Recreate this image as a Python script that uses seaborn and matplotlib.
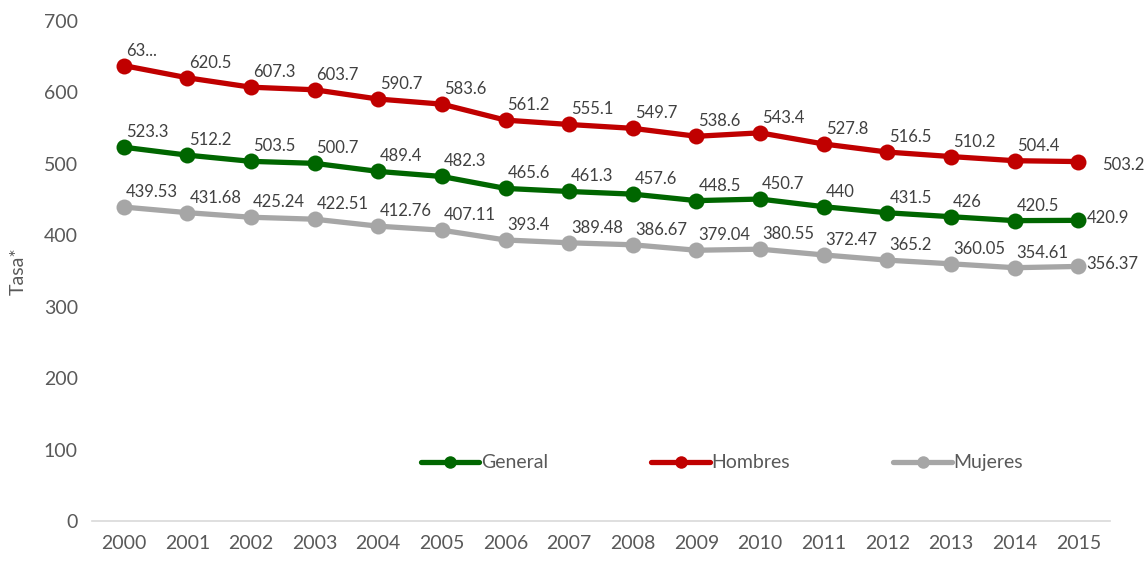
import matplotlib
matplotlib.use("Agg")
import matplotlib.pyplot as plt
import seaborn as sns
import pandas as pd

years = [2000, 2001, 2002, 2003, 2004, 2005, 2006, 2007, 2008, 2009, 2010, 2011, 2012, 2013, 2014, 2015]
general = [523.3, 512.2, 503.5, 500.7, 489.4, 482.3, 465.6, 461.3, 457.6, 448.5, 450.7, 440, 431.5, 426, 420.5, 420.9]
hombres = [637.6, 620.5, 607.3, 603.7, 590.7, 583.6, 561.2, 555.1, 549.7, 538.6, 543.4, 527.8, 516.5, 510.2, 504.4, 503.2]
mujeres = [439.53, 431.68, 425.24, 422.51, 412.76, 407.11, 393.4, 389.48, 386.67, 379.04, 380.55, 372.47, 365.2, 360.05, 354.61, 356.37]
general_labels = ["523.3", "512.2", "503.5", "500.7", "489.4", "482.3", "465.6", "461.3", "457.6", "448.5", "450.7", "440", "431.5", "426", "420.5", "420.9"]
hombres_labels = ["63...", "620.5", "607.3", "603.7", "590.7", "583.6", "561.2", "555.1", "549.7", "538.6", "543.4", "527.8", "516.5", "510.2", "504.4", "503.2"]
mujeres_labels = ["439.53", "431.68", "425.24", "422.51", "412.76", "407.11", "393.4", "389.48", "386.67", "379.04", "380.55", "372.47", "365.2", "360.05", "354.61", "356.37"]
series_names = ["General", "Hombres", "Mujeres"]
colors = ["#006600", "#C00000", "#A6A6A6"]
y_ticks = [0, 100, 200, 300, 400, 500, 600, 700]

sns.set_theme(style="white")
plt.rcParams['font.family'] = ['Lato', 'DejaVu Sans']

rows = []
for name, vals in zip(series_names, [general, hombres, mujeres]):
    for i, (yr, v) in enumerate(zip(years, vals)):
        rows.append({"pos": i, "Año": str(yr), "valor": v, "serie": name})
df = pd.DataFrame(rows)

fig = plt.figure(figsize=(11.48, 5.61), dpi=100)
ax = fig.add_axes([0.080, 0.0713, 0.887, 0.8913])

sns.lineplot(data=df, x="pos", y="valor", hue="serie", palette=colors,
             hue_order=series_names, marker="o", markersize=11.5,
             markeredgewidth=0, linewidth=3.8, ax=ax, legend=True)

text_color = "#595959"
n = len(years)
for sname, vals, labs in zip(series_names, [general, hombres, mujeres],
                             [general_labels, hombres_labels, mujeres_labels]):
    for i, (v, lab) in enumerate(zip(vals, labs)):
        if i == n - 1:
            off = (24, -3) if sname == "Hombres" else (8, 2)
            va = "center"
        else:
            off = (2, 7)
            va = "bottom"
        ax.annotate(lab, (i, v), textcoords="offset pixels", xytext=off,
                    ha="left", va=va, fontsize=12, color="#404040")

ax.set_xlim(-0.5, n - 0.5)
ax.set_ylim(0, 700)
ax.set_yticks(y_ticks)
ax.set_xticks(range(n))
ax.set_xticklabels([str(y) for y in years])
ax.tick_params(axis="both", labelsize=14, colors=text_color, length=0, pad=10)
ax.set_xlabel("")
ax.set_ylabel("Tasa*", fontsize=14, color=text_color, labelpad=12)

for s in ["top", "right", "left"]:
    ax.spines[s].set_visible(False)
ax.spines["bottom"].set_color("#D9D9D9")
ax.spines["bottom"].set_linewidth(1.2)
ax.grid(False)

handles, labels = ax.get_legend_handles_labels()
for h in handles:
    h.set_markersize(9)
leg = ax.legend(handles, labels, loc="center", bbox_to_anchor=(0.619, 0.116), ncol=3,
                frameon=False, fontsize=14, handlelength=3.0, handletextpad=0.1,
                columnspacing=5.3, labelcolor=text_color)

fig.savefig("out.png", dpi=100)
